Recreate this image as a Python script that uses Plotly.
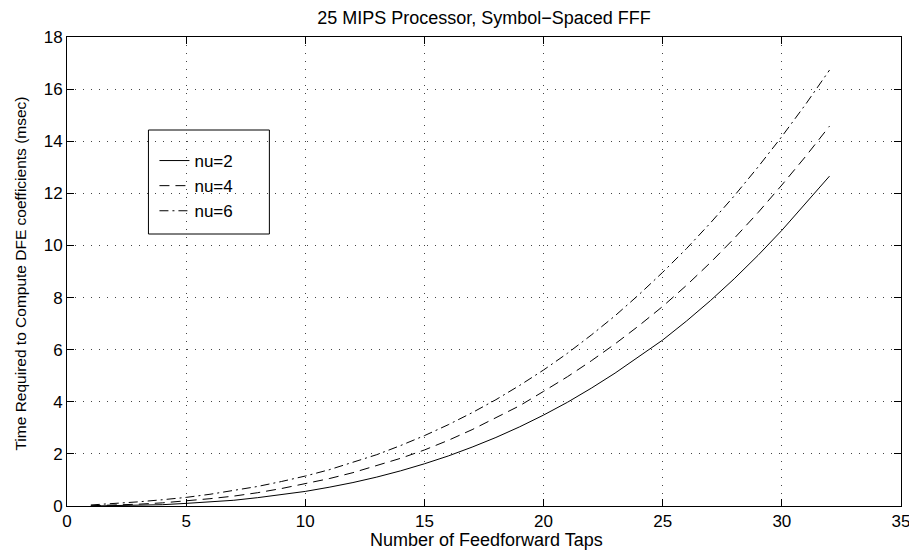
import plotly.graph_objects as go

taps = list(range(1, 33))
nu2 = [0.00, 0.01, 0.03, 0.05, 0.10, 0.15, 0.22, 0.32, 0.43, 0.56,
       0.72, 0.90, 1.11, 1.35, 1.62, 1.92, 2.26, 2.63, 3.04, 3.49,
       3.98, 4.52, 5.10, 5.73, 6.37, 7.10, 7.88, 8.72, 9.62, 10.58,
       11.60, 12.66]
nu4 = [0.01, 0.03, 0.07, 0.12, 0.19, 0.28, 0.38, 0.51, 0.67, 0.85,
       1.05, 1.28, 1.54, 1.83, 2.15, 2.52, 2.93, 3.38, 3.85, 4.40,
       4.96, 5.57, 6.22, 6.92, 7.66, 8.47, 9.34, 10.27, 11.26, 12.32,
       13.42, 14.58]
nu6 = [0.04, 0.09, 0.16, 0.24, 0.33, 0.45, 0.59, 0.75, 0.94, 1.15,
       1.39, 1.67, 1.97, 2.32, 2.70, 3.12, 3.58, 4.08, 4.63, 5.22,
       5.86, 6.56, 7.30, 8.11, 8.97, 9.88, 10.86, 11.90, 13.01, 14.18,
       15.42, 16.73]
series_names = ["nu=2", "nu=4", "nu=6"]
dashes = ["solid", "10px,6px", "9px,4px,2px,4px"]
x_ticks = [0, 5, 10, 15, 20, 25, 30, 35]
y_ticks = [0, 2, 4, 6, 8, 10, 12, 14, 16, 18]

FONT = "Liberation Sans, Arial, Helvetica, sans-serif"
OFF = 8  # page body margin
W, H = 917 - OFF, 551 - OFF
# plot area in screenshot pixels: x 66.5..901, y 37..506
ML = 66.5 - OFF
MR = W - (901 - OFF)
MT = 37 - OFF
MB = H - (506 - OFF)
PW, PH = W - ML - MR, H - MT - MB


def px_x(s):
    return (s - OFF - ML) / PW


def px_y(s):
    return (H - MB - (s - OFF)) / PH


fig = go.Figure()
for name, ys, d in zip(series_names, [nu2, nu4, nu6], dashes):
    fig.add_trace(go.Scatter(x=taps, y=ys, mode="lines", name=name,
                             line=dict(color="black", width=1, dash=d)))

axis_common = dict(
    showline=True, linecolor="black", linewidth=1, mirror="ticks",
    ticks="inside", ticklen=7, tickcolor="black", tickwidth=1,
    showgrid=True, gridcolor="#444", griddash="1px,7px", gridwidth=1,
    zeroline=False, automargin=False,
    tickfont=dict(family=FONT, size=17, color="black"),
)

fig.update_layout(
    width=W, height=H,
    paper_bgcolor="white", plot_bgcolor="white",
    margin=dict(l=ML, r=MR, t=MT, b=MB, autoexpand=False),
    title=dict(text="25 MIPS Processor, Symbol\u2212Spaced FFF",
               font=dict(family=FONT, size=18, color="black"),
               x=(484 - OFF) / W, xanchor="center",
               y=1 - (18 - OFF) / H, yanchor="middle"),
    xaxis=dict(range=[0, 35], tickvals=x_ticks, **axis_common),
    yaxis=dict(range=[0, 18], tickvals=y_ticks, **axis_common),
    legend=dict(x=px_x(154), y=px_y(143), xanchor="left", yanchor="top",
                bgcolor="rgba(0,0,0,0)", borderwidth=0,
                font=dict(family=FONT, size=17, color="black")),
    showlegend=True,
    shapes=[dict(type="rect", xref="paper", yref="paper",
                 x0=px_x(148), x1=px_x(269), y0=px_y(234), y1=px_y(130),
                 line=dict(color="black", width=1), fillcolor="rgba(0,0,0,0)")],
    annotations=[
        dict(text="Number of Feedforward Taps", xref="paper", yref="paper",
             x=px_x(486), y=px_y(540), xanchor="center", yanchor="middle",
             showarrow=False, font=dict(family=FONT, size=18, color="black")),
        dict(text="Time Required to Compute DFE coefficients (msec)",
             xref="paper", yref="paper", x=px_x(19), y=px_y(274),
             xanchor="center", yanchor="middle", textangle=-90,
             showarrow=False, font=dict(family=FONT, size=15.5, color="black")),
    ],
)

fig.write_html("out.html")
